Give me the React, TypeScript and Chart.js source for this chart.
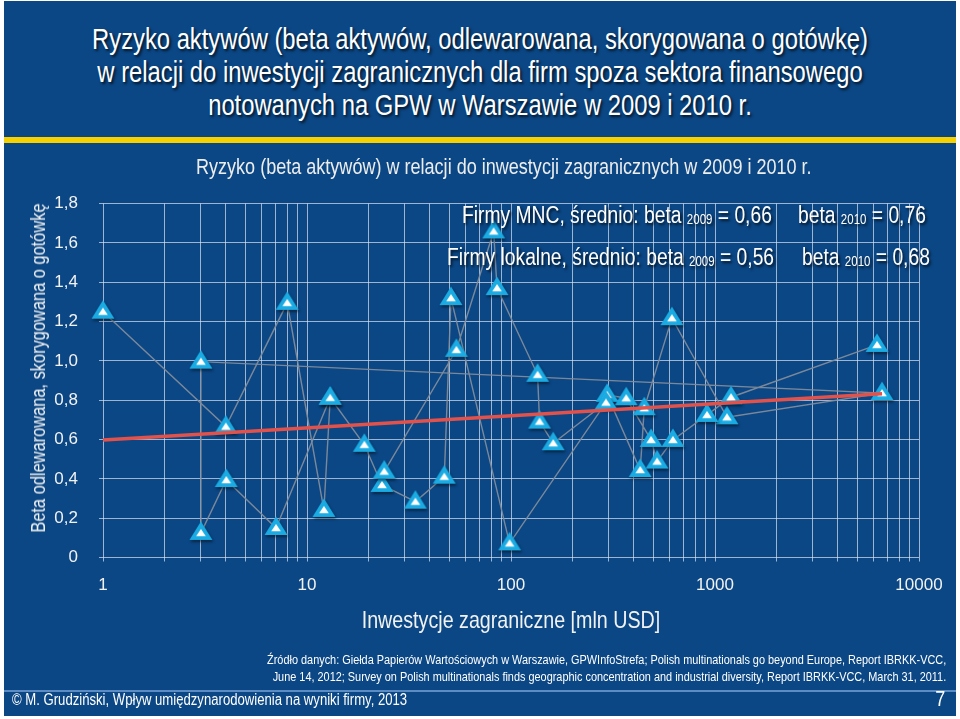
import React, { useEffect, useRef } from "react";
import { Chart, registerables } from "chart.js";

Chart.register(...registerables);

// ---- data ----
const seriesAX = [1, 4, 8, 12.1, 13, 19.1, 23.3, 34, 47.1, 50.8, 98.4, 292, 161, 138, 135, 85.4, 82.2, 54, 23.9];
const seriesAY = [1.25, 0.666, 1.295, 0.242, 0.812, 0.573, 0.369, 0.284, 0.411, 1.319, 0.072, 0.788, 0.581, 0.691, 0.929, 1.37, 1.658, 1.056, 0.437];

const seriesBX = [13, 7.05, 4.02, 3.02, 3.02, 6590, 1145, 615, 450, 430, 296, 367, 486, 520, 622, 914, 1198, 6225];
const seriesBY = [0.812, 0.15, 0.394, 0.125, 0.996, 0.836, 0.713, 1.217, 0.759, 0.445, 0.827, 0.81, 0.598, 0.488, 0.598, 0.725, 0.815, 1.081];

const trendX = [1, 6590];
const trendY = [0.598, 0.833];

const yTickValues = [0, 0.2, 0.4, 0.6, 0.8, 1.0, 1.2, 1.4, 1.6, 1.8];
const yTickLabels = ["0", "0,2", "0,4", "0,6", "0,8", "1,0", "1,2", "1,4", "1,6", "1,8"];

const xDecades = [1, 10, 100, 1000];
const xMultipliers = [1, 2, 3, 4, 5, 6, 7, 8, 9];
const xMax = 10000;
const xLabelValues = [1, 10, 100, 1000, 10000];
const xLabels = ["1", "10", "100", "1000", "10000"];

const titleLines = [
  "Ryzyko aktywów (beta aktywów, odlewarowana, skorygowana o gotówkę)",
  "w relacji do inwestycji zagranicznych dla firm spoza sektora finansowego",
  "notowanych na GPW w Warszawie w 2009 i 2010 r.",
];
const chartTitle = "Ryzyko (beta aktywów) w relacji do inwestycji zagranicznych w 2009 i 2010 r.";
const xTitle = "Inwestycje zagraniczne [mln USD]";
const yTitle = "Beta odlewarowana, skorygowana o gotówkę";
const sourceLines = [
  "Źródło danych: Giełda Papierów Wartościowych w Warszawie, GPWInfoStrefa; Polish multinationals go beyond Europe, Report IBRKK-VCC,",
  "June 14, 2012; Survey on Polish multinationals finds geographic concentration and industrial diversity, Report IBRKK-VCC, March 31, 2011.",
];
const footerText = "© M. Grudziński, Wpływ umiędzynarodowienia na wyniki firmy, 2013";
const pageNumber = "7";

const FONT = '"Liberation Sans", Arial, sans-serif';
const BG = "#0B4785";
const SHADOW = "2px 2px 3px rgba(0,0,0,0.75)";
const NARROW = 0.82;

function makeMarker(): HTMLCanvasElement {
  const c = document.createElement("canvas");
  c.width = 30;
  c.height = 28;
  const ctx = c.getContext("2d")!;
  const cx = 15, cy = 13;
  ctx.save();
  ctx.shadowColor = "rgba(0,0,0,0.5)";
  ctx.shadowOffsetX = 1;
  ctx.shadowOffsetY = 2;
  ctx.shadowBlur = 3;
  ctx.beginPath();
  ctx.moveTo(cx, cy - 10.5);
  ctx.lineTo(cx + 11.5, cy + 8);
  ctx.lineTo(cx - 11.5, cy + 8);
  ctx.closePath();
  ctx.fillStyle = "#1AABE3";
  ctx.fill();
  ctx.restore();
  ctx.beginPath();
  ctx.moveTo(cx, cy - 3);
  ctx.lineTo(cx + 4.8, cy + 4.2);
  ctx.lineTo(cx - 4.8, cy + 4.2);
  ctx.closePath();
  ctx.fillStyle = "#FFFFFF";
  ctx.fill();
  return c;
}

function Narrow(props: { children: React.ReactNode; origin?: string; style?: React.CSSProperties }) {
  return (
    <div
      style={{
        position: "absolute",
        fontFamily: FONT,
        color: "#FFFFFF",
        whiteSpace: "nowrap",
        transform: `scaleX(${NARROW})`,
        transformOrigin: props.origin || "left center",
        ...props.style,
      }}
    >
      {props.children}
    </div>
  );
}

export default function App() {
  const ref = useRef<HTMLCanvasElement | null>(null);

  useEffect(() => {
    document.body.style.margin = "0";
    document.body.style.background = "#FFFFFF";
    const canvas = ref.current;
    if (!canvas) return;
    const marker = makeMarker();
    const xGrid: number[] = [];
    xDecades.forEach((d) => xMultipliers.forEach((m) => xGrid.push(d * m)));
    xGrid.push(xMax);

    const pts = (xs: number[], ys: number[]) => xs.map((x, i) => ({ x, y: ys[i] }));
    const lineDs = (xs: number[], ys: number[]) => ({
      data: pts(xs, ys),
      showLine: true,
      borderColor: "rgba(130,140,155,0.95)",
      borderWidth: 1.4,
      pointRadius: 0,
      clip: false as const,
      order: 2,
    });
    const markerDs = (xs: number[], ys: number[]) => ({
      data: pts(xs, ys),
      showLine: false,
      pointStyle: marker,
      pointRadius: 11,
      clip: false as const,
      order: 1,
    });

    const gridColor = "rgba(215,225,240,0.72)";
    const tickFont = { family: FONT, size: 17 };

    const chart = new Chart(canvas, {
      type: "scatter",
      data: {
        datasets: [
          {
            data: pts(trendX, trendY),
            showLine: true,
            borderColor: "#E2524A",
            borderWidth: 3.5,
            pointRadius: 0,
            clip: false as const,
            order: 0,
          } as any,
          markerDs(seriesAX, seriesAY) as any,
          markerDs(seriesBX, seriesBY) as any,
          lineDs(seriesAX, seriesAY) as any,
          lineDs(seriesBX, seriesBY) as any,
        ],
      },
      options: {
        animation: false,
        responsive: false,
        devicePixelRatio: 1,
        events: [],
        layout: { padding: { left: 22, right: 41, top: 203.5, bottom: 86 } },
        plugins: {
          legend: { display: false },
          tooltip: { enabled: false },
          title: { display: false },
        },
        scales: {
          x: {
            type: "logarithmic",
            min: 1,
            max: xMax,
            afterBuildTicks: (s: any) => {
              s.ticks = xGrid.map((v) => ({ value: v }));
            },
            afterFit: (s: any) => {
              s.height = 75.5;
            },
            ticks: {
              autoSkip: false,
              maxRotation: 0,
              padding: 14,
              color: "#F2F2F2",
              font: tickFont,
              callback: (v: any) => {
                const idx = xLabelValues.indexOf(Number(v));
                return idx >= 0 ? xLabels[idx] : "";
              },
            },
            grid: { color: gridColor, lineWidth: 1, tickLength: 4 },
            border: { display: false },
          },
          y: {
            type: "linear",
            min: 0,
            max: 1.8,
            afterBuildTicks: (s: any) => {
              s.ticks = yTickValues.map((v) => ({ value: v }));
            },
            afterFit: (s: any) => {
              s.width = 81;
            },
            ticks: {
              padding: 21,
              color: "#F2F2F2",
              font: tickFont,
              callback: (_v: any, i: number) => yTickLabels[i],
            },
            grid: { color: gridColor, lineWidth: 1, tickLength: 4 },
            border: { display: false },
          },
        },
      } as any,
    });
    return () => chart.destroy();
  }, []);

  const sub: React.CSSProperties = { fontSize: 14, verticalAlign: "-1px" };
  const ann: React.CSSProperties = { fontSize: 23.5, lineHeight: "26px", textShadow: SHADOW };

  return (
    <div style={{ position: "relative", width: 960, height: 719, overflow: "hidden", background: "#FFFFFF" }}>
      <div style={{ position: "absolute", left: 4, top: 1, width: 952, height: 715, background: BG }} />
      <div style={{ position: "absolute", left: 4, top: 137, width: 952, height: 6, background: "#F7D100" }} />
      <div style={{ position: "absolute", left: 4, top: 690, width: 952, height: 2, background: "#5C8CC4" }} />
      <Narrow origin="center center" style={{ left: 0, top: 23, width: 960, textAlign: "center", fontSize: 29, lineHeight: "33px", textShadow: SHADOW }}>
        {titleLines.map((l, i) => (
          <div key={i}>{l}</div>
        ))}
      </Narrow>
      <canvas ref={ref} width={960} height={719} style={{ position: "absolute", left: 0, top: 0, width: 960, height: 719 }} />
      <Narrow style={{ left: 196, top: 154, fontSize: 22, lineHeight: "26px", color: "#EDEDED" }}>
        {chartTitle}
      </Narrow>
      <div
        style={{
          position: "absolute",
          left: 37.5,
          top: 367.5,
          fontFamily: FONT,
          whiteSpace: "nowrap",
          fontSize: 20,
          lineHeight: "24px",
          color: "#F2F2F2",
          transform: `translate(-50%, -50%) rotate(-90deg) scaleX(${NARROW})`,
        }}
      >
        {yTitle}
      </div>
      <Narrow origin="center center" style={{ left: 0, top: 606, width: 1022, textAlign: "center", fontSize: 24, lineHeight: "28px", color: "#F2F2F2" }}>
        {xTitle}
      </Narrow>
      <Narrow style={{ ...ann, left: 462, top: 202 }}>
        Firmy MNC, średnio: beta <span style={sub}>2009</span> = 0,66
      </Narrow>
      <Narrow style={{ ...ann, left: 798, top: 202 }}>
        beta <span style={sub}>2010</span> = 0,76
      </Narrow>
      <Narrow style={{ ...ann, left: 447, top: 244 }}>
        Firmy lokalne, średnio: beta <span style={sub}>2009</span> = 0,56
      </Narrow>
      <Narrow style={{ ...ann, left: 802, top: 244 }}>
        beta <span style={sub}>2010</span> = 0,68
      </Narrow>
      <Narrow origin="right center" style={{ right: 14, top: 651, fontSize: 13.3, lineHeight: "17px", textAlign: "right" }}>
        {sourceLines.map((l, i) => (
          <div key={i}>{l}</div>
        ))}
      </Narrow>
      <Narrow style={{ left: 12, top: 690, fontSize: 16, lineHeight: "20px" }}>{footerText}</Narrow>
      <Narrow origin="right center" style={{ right: 15, top: 686, fontSize: 22, lineHeight: "26px" }}>{pageNumber}</Narrow>
    </div>
  );
}
